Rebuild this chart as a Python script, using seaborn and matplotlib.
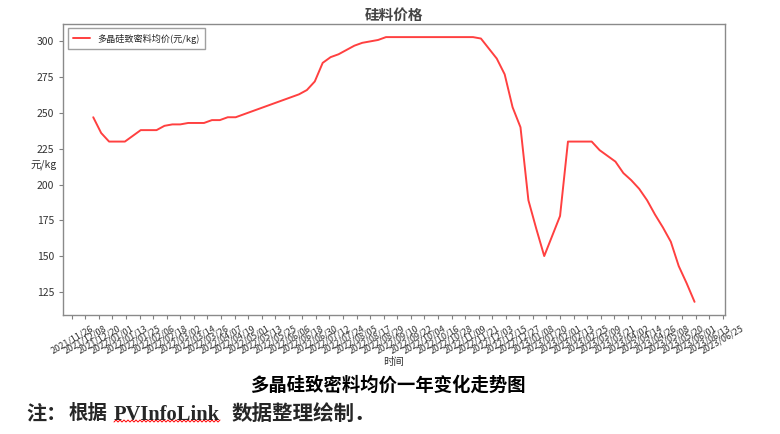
import pandas as pd
import numpy as np
import matplotlib
matplotlib.use("Agg")
import matplotlib.pyplot as plt
import matplotlib.dates as mdates
from matplotlib.lines import Line2D
import seaborn as sns

# 每周一个点，2021/12/15 ~ 2023/05/31
start_date = "2021-12-15"
n_weeks = 77
price = [247, 236, 230, 230, 230, 234, 238, 238, 238, 241,
         242, 242, 243, 243, 243, 245, 245, 247, 247, 249,
         251, 253, 255, 257, 259, 261, 263, 266, 272, 285,
         289, 291, 294, 297, 299, 300, 301, 303, 303, 303,
         303, 303, 303, 303, 303, 303, 303, 303, 303, 302,
         295, 288, 277, 254, 240, 189, 169, 150, 164, 178,
         230, 230, 230, 230, 224, 220, 216, 208, 203, 197,
         189, 179, 170, 160, 143, 131, 118]
tick_start = "2021-11-26"
tick_end = "2023-06-25"

dates = pd.date_range(start_date, periods=n_weeks, freq="7D")
df = pd.DataFrame({"时间": dates, "多晶硅致密料均价(元/kg)": price})

sns.set_style("ticks")
plt.rcParams["font.family"] = ["Noto Sans CJK SC", "DejaVu Sans"]
plt.rcParams["axes.unicode_minus"] = False

W, H = 780, 434
fig = plt.figure(figsize=(W / 100, H / 100), dpi=100)
ax = fig.add_axes([0.081, 0.274, 0.848, 0.671])

sns.lineplot(data=df, x="时间", y="多晶硅致密料均价(元/kg)", ax=ax,
             color="red", alpha=0.75, linewidth=1.4, label="多晶硅致密料均价(元/kg)")

ticks = pd.date_range(tick_start, tick_end, freq="12D")
ax.set_xticks(ticks)
ax.xaxis.set_major_formatter(mdates.DateFormatter("%Y/%m/%d"))
ax.tick_params(axis="x", labelsize=6.5, rotation=30, length=3, color="#808080", labelcolor="#333333")
ax.tick_params(axis="y", labelsize=7.5, length=3, color="#808080", labelcolor="#333333")

for s in ax.spines.values():
    s.set_color("#8a8a8a")
    s.set_linewidth(1.0)

ax.set_title("硅料价格", fontsize=10.5, fontweight="bold", color="#444444", pad=3)
ax.set_xlabel("时间", fontsize=7.5, color="#333333", labelpad=1)
ax.set_ylabel("元/kg", fontsize=7.5, color="#333333", rotation=0, va="center")
ax.yaxis.set_label_coords(-0.03, 0.515)

leg = ax.legend(loc="upper left", fontsize=6.6, frameon=True, fancybox=False,
                handlelength=1.9, borderpad=0.55)
leg.get_frame().set_edgecolor("#888888")

# 图下方的说明文字
fig.text(250 / W, 1 - 385 / H, "多晶硅致密料均价一年变化走势图", fontsize=13.2, fontweight="bold",
         ha="left", va="center", color="black")

note_y = 1 - 413 / H
fig.text(26 / W, note_y, "注：", fontsize=14.5, fontweight="bold", ha="left", va="center")
fig.text(69 / W, note_y, "根据", fontsize=14, fontweight="bold", ha="left", va="center")
fig.text(114 / W, note_y - 0.004, "PVInfoLink", fontsize=14.8, fontweight="bold", ha="left",
         va="center", family=["Liberation Serif", "DejaVu Serif"])
fig.text(232 / W, note_y, "数据整理绘制．", fontsize=14.8, fontweight="bold", ha="left", va="center")

# PVInfoLink 下面的红色波浪线（拼写检查标记）
wx = np.arange(114, 222, 2.0)
wy = 421 + np.where(np.arange(len(wx)) % 2 == 0, 1.0, -1.0)
fig.add_artist(Line2D(wx / W, 1 - wy / H, color="red", linewidth=0.7, transform=fig.transFigure))

fig.savefig("out.png", dpi=100)
